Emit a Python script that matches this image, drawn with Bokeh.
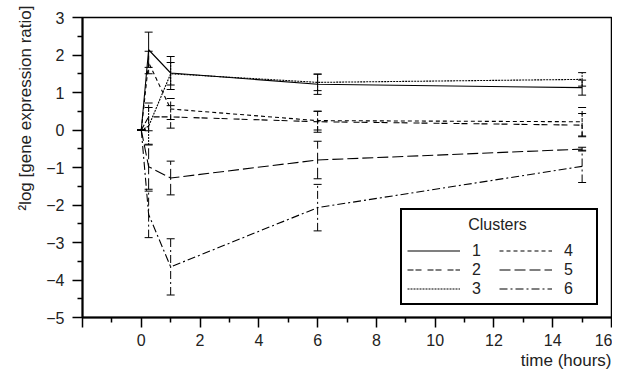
from bokeh.plotting import figure
from bokeh.models import (Range1d, FixedTicker, Whisker, TeeHead, ColumnDataSource,
                          Legend, LegendItem, Title, Label)
from bokeh.embed import file_html
from bokeh.resources import INLINE

# ---- data ----
times = [0, 0.25, 1, 6, 15]
cluster_names = ["1", "2", "3", "4", "5", "6"]
c1 = [0, 2.14, 1.52, 1.22, 1.13]
e1 = [0, 0.47, 0.44, 0.27, 0.20]
c2 = [0, 0.35, 0.35, 0.22, 0.13]
e2 = [0, 0.37, 0.30, 0.28, 0.31]
c3 = [0, 0.10, 1.50, 1.27, 1.35]
e3 = [0, 0.50, 0.30, 0.22, 0.18]
c4 = [0, 1.80, 0.56, 0.25, 0.22]
e4 = [0, 0.30, 0.28, 0.25, 0.38]
c5 = [0, -0.98, -1.28, -0.80, -0.51]
e5 = [0, 0.60, 0.45, 0.50, 0.05]
c6 = [0, -2.25, -3.65, -2.07, -0.97]
e6 = [0, 0.62, 0.75, 0.62, 0.43]

means = [c1, c2, c3, c4, c5, c6]
errs = [e1, e2, e3, e4, e5, e6]
dashes = ["solid", "6 2 6 6", "2 1", "4 3", "11 4", "8 3 2 3"]

x_ticks = [-2, 0, 2, 4, 6, 8, 10, 12, 14, 16]
x_minor = [-1, 1, 3, 5, 7, 9, 11, 13, 15]
y_ticks = [-5, -4, -3, -2, -1, 0, 1, 2, 3]

FONT = "Liberation Sans"
TXT = "#222222"

p = figure(width=612, height=369, output_backend="svg", toolbar_location=None,
           x_range=Range1d(-2, 16), y_range=Range1d(-5, 3),
           min_border_left=82, min_border_top=17, min_border_right=1, min_border_bottom=0)
p.xgrid.visible = False
p.ygrid.visible = False
p.outline_line_color = "black"
p.outline_line_width = 1.5
p.background_fill_color = "white"
p.border_fill_color = "white"

p.xaxis.ticker = FixedTicker(ticks=x_ticks, minor_ticks=x_minor)
p.xaxis.major_label_overrides = {-2: ""}
p.yaxis.ticker = FixedTicker(ticks=y_ticks, minor_ticks=[v + 0.5 for v in y_ticks[:-1]])
for ax in (p.xaxis, p.yaxis):
    ax.axis_line_width = 2
    ax.axis_line_color = "black"
    ax.major_tick_line_width = 1.5
    ax.minor_tick_line_width = 1.5
    ax.major_tick_line_color = "black"
    ax.minor_tick_line_color = "black"
    ax.major_tick_out = 10
    ax.major_tick_in = 0
    ax.minor_tick_out = 5
    ax.minor_tick_in = 0
    ax.major_label_text_font = FONT
    ax.major_label_text_font_size = "16px"
    ax.major_label_text_color = TXT
p.xaxis.major_label_standoff = 6
p.yaxis.major_label_standoff = 8

items = []
for name, m, e, d in zip(cluster_names, means, errs, dashes):
    src = ColumnDataSource(dict(t=times, m=m,
                                lo=[a - b for a, b in zip(m, e)],
                                hi=[a + b for a, b in zip(m, e)]))
    r = p.line("t", "m", source=src, line_color="black", line_width=1.1, line_dash=d)
    w = Whisker(base="t", lower="lo", upper="hi", source=src,
                line_color="black", line_width=1, line_dash=d,
                upper_head=TeeHead(size=8, line_color="black", line_width=1),
                lower_head=TeeHead(size=8, line_color="black", line_width=1))
    p.add_layout(w)
    items.append(LegendItem(label=name, renderers=[r]))

legend = Legend(items=items, title=" ", location=(318, 12),
                orientation="vertical", nrows=3, ncols=2,
                title_text_font=FONT, title_text_font_size="16px", title_text_font_style="normal",
                title_text_color=TXT,
                label_text_font=FONT, label_text_font_size="16px", label_text_color=TXT,
                glyph_width=53, glyph_height=19, label_height=19, label_width=27,
                label_standoff=12, spacing=0, padding=5, margin=0, title_standoff=8,
                border_line_color="black", border_line_width=2.5, border_line_alpha=1.0,
                background_fill_alpha=0.0)
p.add_layout(legend, "center")
p.add_layout(Label(x=415, y=93, x_units="screen", y_units="screen", text="Clusters",
                   text_align="center", text_baseline="middle",
                   text_font=FONT, text_font_size="16px", text_color=TXT))

ylab = Title(text="\u00b2log [gene expression ratio]", align="right",
             text_font=FONT, text_font_size="17px", text_font_style="normal",
             text_color=TXT, standoff=18, offset=-12)
p.add_layout(ylab, "left")
xlab = Title(text="time (hours)", align="right",
             text_font=FONT, text_font_size="17px", text_font_style="normal",
             text_color=TXT, standoff=0)
p.add_layout(xlab, "below")

open("out.html", "w").write(file_html(p, INLINE))
